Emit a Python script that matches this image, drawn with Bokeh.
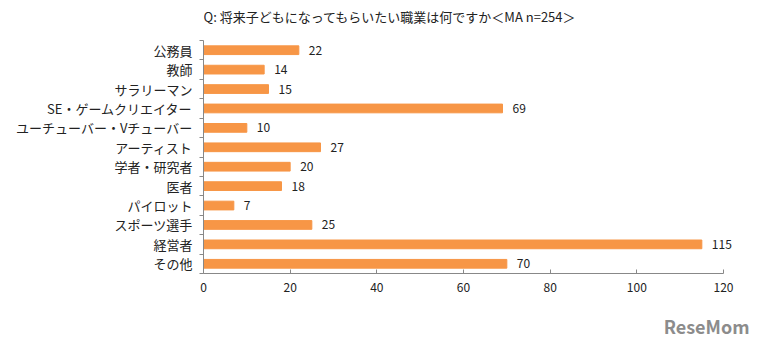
from bokeh.plotting import figure
from bokeh.models import ColumnDataSource, Range1d, FixedTicker, LabelSet, Label, Title
from bokeh.core.properties import value
from bokeh.embed import file_html
from bokeh.resources import INLINE

title_text = "Q:  将来子どもになってもらいたい職業は何ですか＜MA n=254＞"
categories = ["公務員", "教師", "サラリーマン", "SE・ゲームクリエイター",
              "ユーチューバー・Vチューバー", "アーティスト", "学者・研究者", "医者",
              "パイロット", "スポーツ選手", "経営者", "その他"]
values = [22, 14, 15, 69, 10, 27, 20, 18, 7, 25, 115, 70]
x_ticks = [0, 20, 40, 60, 80, 100, 120]

FONT = "Noto Sans CJK JP"
n = len(categories)
ypos = [n - 1 - i for i in range(n)]

# layout (pixels)
W, H = 752, 362
LEFT, BOTTOM = 203, 89
BAND_PX = 233 / n          # height of one category band
TOP_PX = 40                # free space above the categories (for the title)
y_end = n - 0.5 + TOP_PX / BAND_PX

src = ColumnDataSource(dict(y=ypos, v=values, lab=[str(v) for v in values], cat=categories))

p = figure(width=W, height=H, output_backend="svg", toolbar_location=None,
           x_range=Range1d(0, 126), y_range=Range1d(-0.5, y_end),
           min_border_left=LEFT, min_border_right=3, min_border_top=0, min_border_bottom=BOTTOM)
p.outline_line_color = None
p.xgrid.grid_line_color = None
p.ygrid.grid_line_color = None

p.hbar(y="y", right="v", left=0, height=0.45, source=src, color="#F79646")
labels = LabelSet(x="v", y="y", text="lab", source=src, x_offset=10, text_baseline="middle",
                  text_align="left", text_font=value(FONT), text_font_size=value("12px"),
                  text_color="#222222")
p.add_layout(labels)

ttl = Label(x=0, y=n - 0.5, x_offset=0, y_offset=24, text=title_text, text_align="left",
            text_baseline="middle", text_font=FONT, text_font_size="13px", text_color="#222222")
p.add_layout(ttl)

ax = p.xaxis[0]
ax.ticker = FixedTicker(ticks=x_ticks)
ax.bounds = (0, 120)
ax.axis_line_color = "#888888"
ax.major_tick_line_color = "#888888"
ax.major_tick_in = 4
ax.major_tick_out = 0
ax.minor_tick_line_color = None
ax.major_label_text_font = FONT
ax.major_label_text_font_size = "12px"
ax.major_label_text_color = "#222222"
ax.major_label_standoff = 9

ay = p.yaxis[0]
ay.ticker = FixedTicker(ticks=ypos, minor_ticks=[k + 0.5 for k in range(-1, n)])
ay.bounds = (-0.5, n - 0.5)
ay.major_label_overrides = {y: c for y, c in zip(ypos, categories)}
ay.axis_line_color = "#888888"
ay.major_tick_line_color = None
ay.major_tick_in = 0
ay.major_tick_out = 0
ay.minor_tick_line_color = "#888888"
ay.minor_tick_in = 0
ay.minor_tick_out = 4
ay.major_label_text_font = FONT
ay.major_label_text_font_size = "13px"
ay.major_label_text_color = "#222222"
ay.major_label_standoff = 7

# white (invisible on white) spacer between the x axis and the watermark
spacer = Title(text=".", standoff=0, text_font=FONT, text_font_size="19px",
               text_color="#ffffff")
p.add_layout(spacer, "below")

wm = Title(text="ReseMom", align="right", offset=0, standoff=0, text_font=FONT,
           text_font_size="18px", text_font_style="bold", text_color="#8c8c8c")
p.add_layout(wm, "below")

open("out.html", "w").write(file_html(p, INLINE))
